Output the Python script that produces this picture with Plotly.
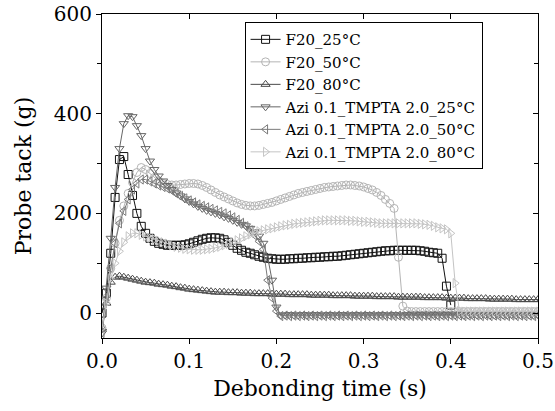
import plotly.graph_objects as go

TIME_MS = [0, 5, 10, 15, 20, 25, 30, 35, 40, 45, 50, 55, 60, 65, 70, 75, 80, 85, 90, 95,
           100, 105, 110, 115, 120, 125, 130, 135, 140, 145, 150, 155, 160, 165, 170, 175, 180, 185, 190, 195,
           200, 205, 210, 215, 220, 225, 230, 235, 240, 245, 250, 255, 260, 265, 270, 275, 280, 285, 290, 295,
           300, 305, 310, 315, 320, 325, 330, 335, 340, 345, 350, 355, 360, 365, 370, 375, 380, 385, 390, 395,
           400, 405, 410, 415, 420, 425, 430, 435, 440, 445, 450, 455, 460, 465, 470, 475, 480, 485, 490, 495, 500]

F20_25 = [0, 40, 120, 232, 308, 314, 278, 236, 200, 174, 160, 150, 144, 140, 138, 136, 136, 136, 136, 137,
          139, 142, 145, 148, 150, 151, 151, 150, 147, 142, 136, 130, 126, 122, 120, 117, 114, 112, 110, 109,
          108, 108, 108, 109, 109, 110, 110, 111, 111, 112, 112, 113, 113, 114, 114, 115, 116, 117, 118, 119,
          120, 121, 122, 123, 124, 125, 125, 126, 126, 126, 126, 126, 126, 125, 124, 122, 121, 120, 110, 54, 16]

F20_50 = [-30, 30, 90, 140, 186, 215, 240, 262, 282, 292, 288, 280, 272, 265, 260, 258, 257, 257, 258, 259,
          260, 260, 259, 256, 252, 247, 242, 237, 233, 229, 225, 221, 218, 216, 215, 215, 216, 218, 220, 222,
          225, 228, 231, 234, 237, 240, 242, 244, 246, 248, 250, 252, 253, 254, 255, 256, 257, 257, 256, 255,
          253, 250, 247, 242, 236, 228, 220, 210, 112, 14, 4, 3, 3, 3, 3, 3, 3, 3, 3, 3,
          3, 3, 3, 3, 3, 3, 3, 3, 3, 3, 3, 3, 3, 3, 3, 3, 3, 3, 3, 3, 3]

F20_80 = [-30, 20, 62, 72, 74, 72, 70, 68, 66, 64, 62, 61, 60, 58, 57, 56, 54, 53, 51, 50,
          48, 47, 46, 45, 44, 43, 42, 42, 42, 41, 41, 41, 40, 40, 40, 39, 39, 39, 39, 38,
          38, 38, 38, 37, 37, 37, 37, 37, 36, 36, 36, 36, 36, 35, 35, 35, 35, 35, 34, 34,
          34, 34, 34, 33, 33, 33, 33, 33, 32, 32, 32, 32, 32, 32, 31, 31, 31, 31, 31, 30,
          30, 30, 30, 30, 29, 29, 29, 29, 29, 28, 28, 28, 28, 28, 28, 27, 27, 27, 27, 27, 27]

AZI_25 = [-40, 50, 150, 252, 330, 380, 396, 394, 376, 356, 330, 305, 288, 275, 265, 256, 248, 241, 235, 229,
          224, 219, 214, 210, 206, 203, 200, 197, 193, 190, 186, 182, 178, 175, 170, 163, 154, 140, 112, 66,
          12, -4, -4, -3, -4, -4, -3, -4, -4, -3, -4, -4, -3, -4, -4, -3, -4, -4, -3, -4,
          -4, -3, -4, -4, -3, -4, -4, -3, -4, -4, -3, -4, -4, -3, -4, -4, -3, -4, -4, -3,
          -4, -4, -3, -4, -4, -3, -4, -4, -3, -4, -4, -3, -4, -4, -3, -4, -4, -3, -4, -4, -3]

AZI_50 = [-40, 30, 90, 140, 180, 205, 228, 248, 260, 268, 268, 264, 260, 256, 253, 250, 246, 240, 235, 230,
          226, 222, 218, 215, 212, 209, 206, 203, 200, 196, 192, 187, 181, 174, 166, 156, 144, 128, 66, 30,
          4, -6, -5, -6, -5, -6, -5, -6, -5, -6, -5, -6, -5, -6, -5, -6, -5, -6, -5, -6,
          -5, -6, -5, -6, -5, -6, -5, -6, -5, -6, -5, -6, -5, -6, -5, -6, -5, -6, -5, -6,
          -5, -6, -5, -6, -5, -6, -5, -6, -5, -6, -5, -6, -5, -6, -5, -6, -5, -6, -5, -6, -5]

AZI_80 = [-30, 20, 70, 100, 124, 142, 154, 160, 160, 157, 154, 151, 148, 145, 142, 139, 136, 133, 131, 129,
          128, 127, 127, 127, 128, 129, 131, 133, 136, 139, 142, 146, 150, 154, 158, 161, 164, 166, 168, 170,
          172, 174, 176, 177, 179, 180, 181, 182, 183, 184, 185, 186, 186, 186, 186, 186, 186, 185, 185, 184,
          183, 183, 182, 181, 180, 180, 180, 180, 180, 180, 180, 180, 180, 179, 178, 177, 175, 172, 170, 168,
          160, 60, 4, 3, 3, 3, 3, 3, 3, 3, 3, 3, 3, 3, 3, 3, 3, 3, 3, 3, 3]

NAMES = ["F20_25°C", "F20_50°C", "F20_80°C",
         "Azi 0.1_TMPTA 2.0_25°C", "Azi 0.1_TMPTA 2.0_50°C", "Azi 0.1_TMPTA 2.0_80°C"]
SERIES = [F20_25, F20_50, F20_80, AZI_25, AZI_50, AZI_80]
COLORS = ["#111111", "#b4b4b4", "#4a4a4a", "#666666", "#7a7a7a", "#c4c4c4"]
SYMBOLS = ["square-open", "circle-open", "triangle-up-open", "triangle-down-open",
           "triangle-left-open", "triangle-right-open"]

t_s = [v / 1000 for v in TIME_MS]

fig = go.Figure()
for name, ys, col, sym in zip(NAMES, SERIES, COLORS, SYMBOLS):
    fig.add_trace(go.Scatter(
        x=t_s[:len(ys)], y=ys, name=name, mode="lines+markers",
        line=dict(color=col, width=1),
        marker=dict(symbol=sym, size=8, color=col, line=dict(color=col, width=1)),
    ))

# empty trace that activates the mirrored axes carrying inside ticks
fig.add_trace(go.Scatter(x=[], y=[], xaxis="x2", yaxis="y2", showlegend=False, hoverinfo="skip"))

FONT = "DejaVu Serif"
fig.update_layout(
    width=555, height=411,
    margin=dict(l=102, r=17, t=14, b=73, autoexpand=False),
    paper_bgcolor="white", plot_bgcolor="white",
    font=dict(family=FONT, size=20, color="black"),
    showlegend=True,
    legend=dict(x=0.327, y=0.975, xanchor="left", yanchor="top",
                bordercolor="black", borderwidth=1, bgcolor="white",
                font=dict(family=FONT, size=15, color="black"),
                tracegroupgap=0, itemwidth=30),
    xaxis=dict(range=[0, 0.5], dtick=0.1, tickformat=".1f", showgrid=False, zeroline=False,
               showline=True, linecolor="black", linewidth=1.2, mirror=True, automargin=False,
               ticks="outside", ticklen=5, tickcolor="black",
               tickfont=dict(family=FONT, size=20),
               title=dict(text="Debonding time (s)", font=dict(family=FONT, size=22), standoff=8)),
    yaxis=dict(range=[-50, 600], tickvals=[0, 200, 400, 600], showgrid=False, zeroline=False,
               showline=True, linecolor="black", linewidth=1.2, mirror=True, automargin=False,
               ticks="outside", ticklen=5, tickcolor="black",
               minor=dict(tickvals=[100, 300, 500], ticks="outside", ticklen=4, tickcolor="black"),
               tickfont=dict(family=FONT, size=20),
               title=dict(text="Probe tack (g)", font=dict(family=FONT, size=22), standoff=16)),
    xaxis2=dict(range=[0, 0.5], dtick=0.1, overlaying="x", side="top", anchor="y", automargin=False,
                showticklabels=False, showgrid=False, zeroline=False,
                ticks="inside", ticklen=5, tickcolor="black", showline=False),
    yaxis2=dict(range=[-50, 600], tickvals=[0, 200, 400, 600], overlaying="y", side="right", anchor="x",
                automargin=False, showticklabels=False, showgrid=False, zeroline=False,
                ticks="inside", ticklen=5, tickcolor="black", showline=False,
                minor=dict(tickvals=[100, 300, 500], ticks="inside", ticklen=4, tickcolor="black")),
)

fig.write_html("out.html", config={"displayModeBar": False},
               post_script="document.body.style.margin='0';")
